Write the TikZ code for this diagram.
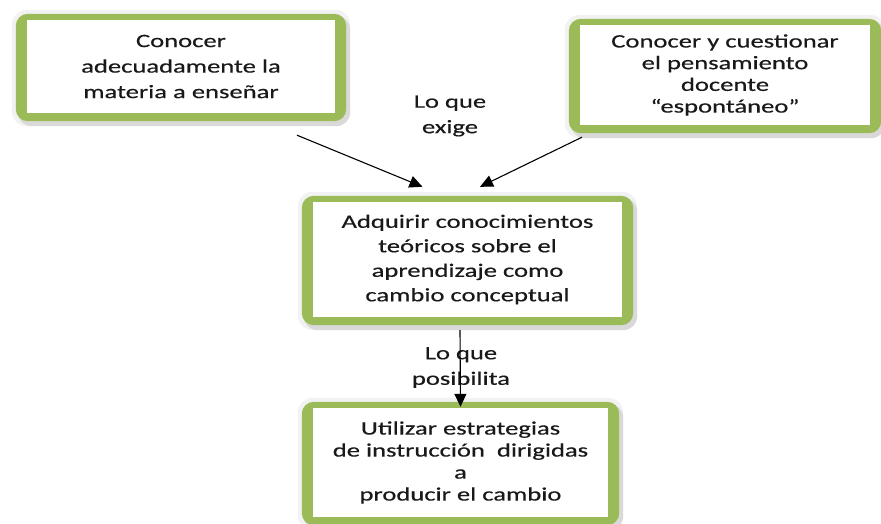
\documentclass[tikz,border=0pt]{standalone}
\usepackage{fontspec}
\setmainfont[FakeStretch=1.4,FakeBold=0.4]{Carlito}
\usetikzlibrary{arrows.meta,backgrounds}
\definecolor{verde}{HTML}{9BBB59}

\begin{document}
\begin{tikzpicture}[x=1pt,y=-1pt,
    caja/.style={rectangle,fill=white,inner sep=0pt,align=center,text=black!90,
      font=\fontsize{19}{24.5}\selectfont},
    etiqueta/.style={align=center,text=black!90,font=\fontsize{19}{25.5}\selectfont},
    flecha/.style={line width=1.1pt,-{Triangle[length=13pt,width=12pt]}}]
  \useasboundingbox (0,0) rectangle (881,524);
  \node[caja,minimum width=308pt,minimum height=93pt,font=\fontsize{19}{25.5}\selectfont] (materia) at (181,66.5)
    {Conocer\\adecuadamente la\\materia a enseñar};
  \node[caja,minimum width=290pt,minimum height=100pt,font=\fontsize{19}{21.7}\selectfont] (docente) at (725,75)
    {Conocer y cuestionar\\el pensamiento\\docente\\“espontáneo”};
  \node[caja,minimum width=309pt,minimum height=115pt] (teoria) at (467.5,259.5)
    {Adquirir conocimientos\\teóricos sobre el\\aprendizaje como\\cambio conceptual};
  \node[caja,minimum width=295pt,minimum height=109pt,font=\fontsize{19}{22}\selectfont] (estrategia) at (460.5,462.5)
    {Utilizar estrategias\\de instrucción~ dirigidas\\a\\producir el cambio};
  \begin{scope}[on background layer]
    \foreach \c in {materia,docente,teoria,estrategia} {
      \fill[gray!10,rounded corners=15pt] ([shift={(-15,-10)}]\c.north west) rectangle ([shift={(15,13)}]\c.south east);
      \fill[gray!30,rounded corners=14pt] ([shift={(-9,-4)}]\c.north west) rectangle ([shift={(15,13)}]\c.south east);
      \fill[verde,rounded corners=12pt] ([shift={(-11,-6)}]\c.north west) rectangle ([shift={(11,8)}]\c.south east);
    }
  \end{scope}
  \node[etiqueta] (exige) at (450,116) {Lo que\\exige};
  \node[etiqueta] (posibilita) at (461,367.5) {Lo que\\posibilita};
  \draw[flecha] ([shift={(116,22)}]materia.south) -- ([shift={(-45,-15)}]teoria.north);
  \draw[flecha] ([shift={(-143,12)}]docente.south) -- ([shift={(12.5,-15)}]teoria.north);
  \draw[flecha] ([shift={(-7.5,13)}]teoria.south) -- ([shift={(0,-1)}]estrategia.north);
\end{tikzpicture}
\end{document}
